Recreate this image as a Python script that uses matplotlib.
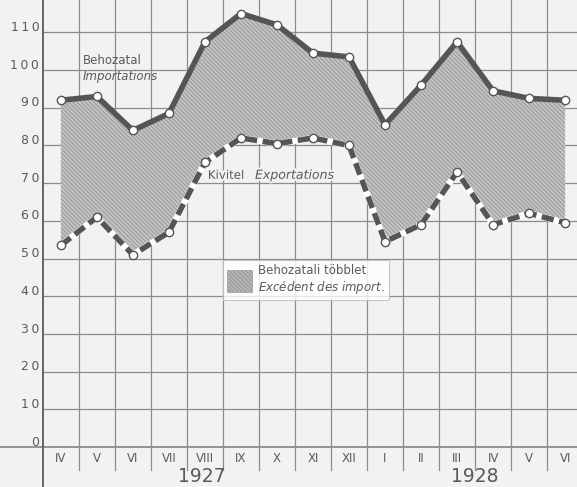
import matplotlib.pyplot as plt
import matplotlib.patheffects as pe

# data (monthly values, IV 1927 .. VI 1928)
months = ['IV', 'V', 'VI', 'VII', 'VIII', 'IX', 'X', 'XI', 'XII',
          'I', 'II', 'III', 'IV', 'V', 'VI']
imports = [92, 93, 84, 88.5, 107.5, 115, 112, 104.5, 103.5,
           85.5, 96, 107.5, 94.5, 92.5, 92]
exports = [53.5, 61, 51, 57, 75.5, 82, 80.5, 82, 80,
           54.5, 59, 73, 59, 62, 59.5]
y_ticks = [0, 10, 20, 30, 40, 50, 60, 70, 80, 90, 100, 110]
years = ['1927', '1928']
year_pos = [3.9, 11.5]

paper = '#f2f2f0'
ink = '#5a5a5a'
grid_c = '#8c8c8c'
fill_hatch = '\\' * 8

plt.rcParams['hatch.linewidth'] = 0.5
plt.rcParams['hatch.color'] = '#8c8c8c'

fig = plt.figure(figsize=(5.77, 4.87), dpi=100, facecolor=paper)
ax = fig.add_axes([0, 0, 1, 1])
ax.set_facecolor(paper)
ax.set_xlim(-1.69, 14.33)
ax.set_ylim(-10.6, 118.6)
ax.axis('off')

x = list(range(len(months)))

# grid
for v in y_ticks:
    lw = 1.3 if v == 0 else 0.9
    x0 = -1.69 if v == 0 else -0.5
    ax.plot([x0, 15], [v, v], color=grid_c, lw=lw, zorder=1)
for k in range(len(months) + 1):
    xv = k - 0.5
    if k == 0:
        ax.plot([xv, xv], [-11, 119], color=ink, lw=1.3, zorder=1)
    else:
        ax.plot([xv, xv], [-6, 119], color=grid_c, lw=0.9, zorder=1)

# y labels (spaced digits like the original)
for v in y_ticks:
    ax.text(-0.6, v + 1.3, '\u2009'.join(str(v)), ha='right', va='center',
            fontsize=9, color=ink)

# month and year labels
for i, m in enumerate(months):
    ax.text(i, -3.1, m, ha='center', va='center', fontsize=8.5, color=ink)
for p, yr in zip(year_pos, years):
    ax.text(p, -7.8, yr, ha='center', va='center', fontsize=13.5, color=ink)

# surplus band
ax.fill_between(x, exports, imports, facecolor='#c2c2c2', hatch=fill_hatch,
                edgecolor='#8c8c8c', linewidth=0, zorder=2)

# imports line
ax.plot(x, imports, color='#555555', lw=4, solid_capstyle='round', zorder=3)
ax.plot(x, imports, 'o', ms=6, mfc='white', mec='#555555', mew=1, zorder=4)

# exports line (dashed, white gaps)
ax.plot(x, exports, color='white', lw=4.5, zorder=3)
ax.plot(x, exports, color='#555555', lw=4, dashes=(2.2, 1.0), zorder=3)
ax.plot(x, exports, 'o', ms=6, mfc='white', mec='#555555', mew=1, zorder=4)

# series labels
ax.text(0.61, 102.6, 'Behozatal', fontsize=8.5, color=ink, va='center')
ax.text(0.61, 98.2, 'Importations', fontsize=8.5, color=ink, va='center',
        style='italic')
halo = [pe.withStroke(linewidth=3, foreground=paper)]
ax.text(4.08, 72.1, 'Kivitel', fontsize=8.5, color=ink, va='center',
        path_effects=halo)
ax.text(5.39, 72.1, 'Exportations', fontsize=9, color=ink, va='center',
        style='italic', path_effects=halo)

# legend box
leg = ax.legend(handles=[plt.Rectangle((0, 0), 1, 1, facecolor='#b4b4b4',
                                       hatch=fill_hatch, edgecolor='#8c8c8c',
                                       lw=0)],
                labels=['Behozatali többlet\n$\\it{Excédent\\ des\\ import.}$'],
                loc='upper left', bbox_to_anchor=(0.3865, 0.466),
                borderaxespad=0, fontsize=8.5, frameon=True, fancybox=False,
                handlelength=2.2, handleheight=2.6, borderpad=0.3,
                handletextpad=0.5, labelcolor=ink)
leg.get_frame().set_facecolor('white')
leg.get_frame().set_edgecolor('#bbbbbb')
leg.get_frame().set_linewidth(0.8)
leg.set_zorder(5)

fig.savefig('out.png', dpi=100, facecolor=paper)
